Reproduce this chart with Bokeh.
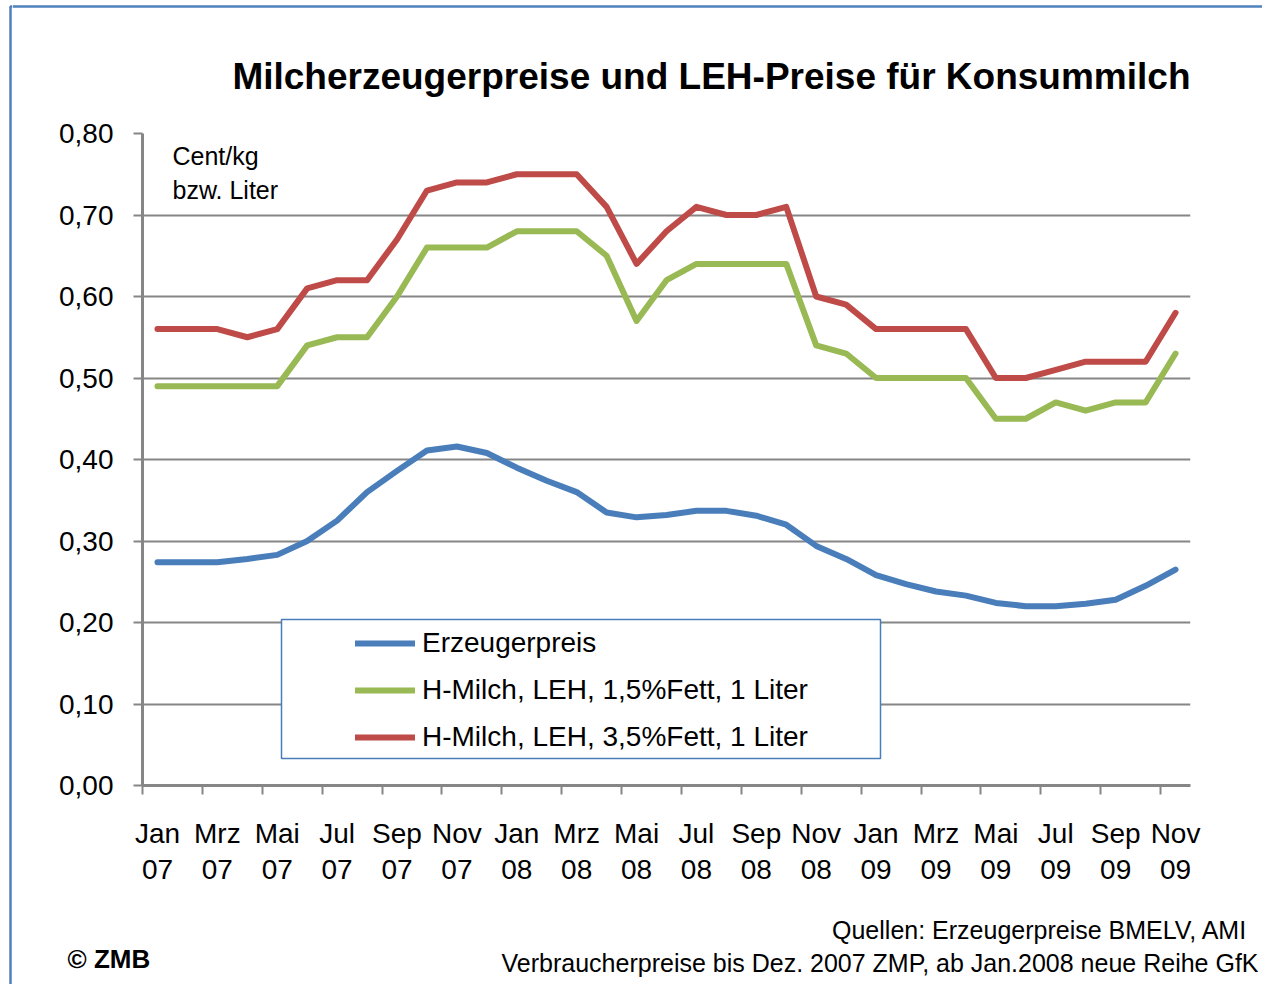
import subprocess
from bokeh.plotting import figure
from bokeh.layouts import row, column
from bokeh.models import (FixedTicker, Legend, LegendItem, Label, BoxAnnotation,
                          ColumnDataSource, Range1d, Span)
from bokeh.embed import file_html
from bokeh.resources import INLINE

# ---------------- data ----------------
months = ["Jan 07", "Feb 07", "Mrz 07", "Apr 07", "Mai 07", "Jun 07", "Jul 07", "Aug 07",
          "Sep 07", "Okt 07", "Nov 07", "Dez 07",
          "Jan 08", "Feb 08", "Mrz 08", "Apr 08", "Mai 08", "Jun 08", "Jul 08", "Aug 08",
          "Sep 08", "Okt 08", "Nov 08", "Dez 08",
          "Jan 09", "Feb 09", "Mrz 09", "Apr 09", "Mai 09", "Jun 09", "Jul 09", "Aug 09",
          "Sep 09", "Okt 09", "Nov 09"]

erzeugerpreis = [0.274, 0.274, 0.274, 0.278, 0.283, 0.300, 0.325, 0.360, 0.386, 0.411,
                 0.416, 0.408, 0.390, 0.374, 0.360, 0.335, 0.329, 0.332, 0.337, 0.337,
                 0.331, 0.320, 0.294, 0.278, 0.258, 0.247, 0.238, 0.233, 0.224, 0.220,
                 0.220, 0.223, 0.228, 0.245, 0.265]

h_milch_15 = [0.49, 0.49, 0.49, 0.49, 0.49, 0.54, 0.55, 0.55, 0.60, 0.66,
              0.66, 0.66, 0.68, 0.68, 0.68, 0.65, 0.57, 0.62, 0.64, 0.64,
              0.64, 0.64, 0.54, 0.53, 0.50, 0.50, 0.50, 0.50, 0.45, 0.45,
              0.47, 0.46, 0.47, 0.47, 0.53]

h_milch_35 = [0.56, 0.56, 0.56, 0.55, 0.56, 0.61, 0.62, 0.62, 0.67, 0.73,
              0.74, 0.74, 0.75, 0.75, 0.75, 0.71, 0.64, 0.68, 0.71, 0.70,
              0.70, 0.71, 0.60, 0.59, 0.56, 0.56, 0.56, 0.56, 0.50, 0.50,
              0.51, 0.52, 0.52, 0.52, 0.58]

series_names = ["Erzeugerpreis",
                "H-Milch, LEH, 1,5%Fett, 1 Liter",
                "H-Milch, LEH, 3,5%Fett, 1 Liter"]

y_ticks = [0.0, 0.1, 0.2, 0.3, 0.4, 0.5, 0.6, 0.7, 0.8]
y_tick_labels = ["0,00", "0,10", "0,20", "0,30", "0,40", "0,50", "0,60", "0,70", "0,80"]

title_text = "Milcherzeugerpreise und LEH-Preise für Konsummilch"
unit_lines = ["Cent/kg", "bzw. Liter"]
source_lines = ["Quellen: Erzeugerpreise BMELV, AMI",
                "Verbraucherpreise bis Dez. 2007 ZMP, ab Jan.2008 neue Reihe GfK"]
copyright_text = "© ZMB"

# ---------------- fonts ----------------
try:
    fc = subprocess.run(["fc-list"], capture_output=True, text=True).stdout
except Exception:
    fc = ""
HAS_NARROW = "Liberation Sans Narrow" in fc
REG = "Liberation Sans, Arial, sans-serif"
if HAS_NARROW:
    TITLE_FONT, TITLE_SIZE = "Liberation Sans Narrow", "46px"
else:
    TITLE_FONT, TITLE_SIZE = REG, "37px"

BORDER = "#4F81BD"
W, H = 1262, 984
STRIP_W = 12
RW = W - STRIP_W
TOP_H, FOOT_H = 118, 84
MAIN_H = H - TOP_H - FOOT_H


def no_align(f):
    try:
        f.frame_align = False
    except Exception:
        pass


def blank(width, height):
    f = figure(width=width, height=height, output_backend="svg", toolbar_location=None,
               x_range=Range1d(0, width), y_range=Range1d(height, 0),
               x_axis_type=None, y_axis_type=None, min_border=0)
    f.outline_line_color = None
    f.grid.visible = False
    f.background_fill_color = "white"
    f.border_fill_color = "white"
    no_align(f)
    return f


# left strip with the outer frame line
strip = blank(STRIP_W, H)
strip.line([10, 10, STRIP_W], [H + 5, 6, 6], line_color=BORDER, line_width=2.5)

# title area
top = blank(RW, TOP_H)
top.add_layout(Span(location=6, dimension="width", line_color=BORDER, line_width=2.5))
top.add_layout(Label(x=1190 - STRIP_W, y=76, text=title_text, text_align="right",
                     text_baseline="alphabetic", text_font=TITLE_FONT,
                     text_font_size=TITLE_SIZE, text_font_style="bold", text_color="black"))

# ---------------- main chart ----------------
x_idx = list(range(len(months)))
src = ColumnDataSource(dict(x=x_idx, erz=erzeugerpreis, h15=h_milch_15, h35=h_milch_35))

p = figure(width=RW, height=MAIN_H, output_backend="svg", toolbar_location=None,
           x_range=Range1d(-0.5, len(months) - 0.5), y_range=Range1d(0, 0.8),
           min_border_left=142 - STRIP_W, min_border_right=RW - (1190 - STRIP_W),
           min_border_top=133 - TOP_H, min_border_bottom=TOP_H + MAIN_H - 785)
p.outline_line_color = None
p.background_fill_color = "white"
p.border_fill_color = "white"
no_align(p)

major = x_idx[::2]
minor = [i - 0.5 for i in x_idx[::2]]
p.xaxis.ticker = FixedTicker(ticks=major, minor_ticks=minor)
p.xaxis.major_label_overrides = {i: months[i].replace(" ", "\n") for i in major}
p.xaxis.major_tick_out = 0
p.xaxis.major_tick_in = 0
p.xaxis.minor_tick_out = 9
p.xaxis.minor_tick_in = 0
p.xaxis.axis_line_color = "#868686"
p.xaxis.axis_line_width = 3
p.xaxis.minor_tick_line_color = "#868686"
p.xaxis.minor_tick_line_width = 2
p.xaxis.major_label_text_font = REG
p.xaxis.major_label_text_font_size = "28px"
p.xaxis.major_label_text_color = "black"
p.xaxis.major_label_text_line_height = 1.18
p.xaxis.major_label_standoff = 23

p.yaxis.ticker = FixedTicker(ticks=y_ticks, minor_ticks=[])
p.yaxis.major_label_overrides = dict(zip(y_ticks, y_tick_labels))
p.yaxis.major_tick_out = 9
p.yaxis.major_tick_in = 0
p.yaxis.minor_tick_out = 0
p.yaxis.axis_line_color = "#868686"
p.yaxis.axis_line_width = 3
p.yaxis.major_tick_line_color = "#868686"
p.yaxis.major_tick_line_width = 2
p.yaxis.major_label_text_font = REG
p.yaxis.major_label_text_font_size = "28px"
p.yaxis.major_label_text_color = "black"
p.yaxis.major_label_standoff = 20

p.xgrid.visible = False
p.ygrid.ticker = FixedTicker(ticks=y_ticks)
p.ygrid.grid_line_color = "#868686"
p.ygrid.grid_line_width = 2

box = BoxAnnotation(left=139, right=738, bottom=27, top=166,
                    left_units="screen", right_units="screen",
                    bottom_units="screen", top_units="screen",
                    fill_color="white", fill_alpha=1.0,
                    line_color="#4A7EBB", line_alpha=1.0, line_width=1.5,
                    level="underlay")
p.add_layout(box)

colors = ["#4A7EBB", "#98B954", "#BE4B48"]
cols = ["erz", "h15", "h35"]
renderers = []
for c, col in zip(colors, cols):
    r = p.line("x", col, source=src, line_color=c, line_width=6,
               line_cap="round", line_join="round")
    renderers.append(r)

legend = Legend(items=[LegendItem(label=n, renderers=[r]) for n, r in zip(series_names, renderers)],
                location=(213, 28), orientation="vertical",
                glyph_width=60, glyph_height=40, label_height=40, label_standoff=7,
                spacing=7, padding=0, margin=0,
                border_line_color=None, background_fill_alpha=0,
                label_text_font=REG, label_text_font_size="28px",
                label_text_color="black")
p.add_layout(legend, "center")

p.add_layout(Label(x=30, y=630, x_units="screen", y_units="screen", text=unit_lines[0],
                   text_align="left", text_baseline="alphabetic", text_font=REG,
                   text_font_size="25px", text_color="black"))
p.add_layout(Label(x=30, y=596, x_units="screen", y_units="screen", text=unit_lines[1],
                   text_align="left", text_baseline="alphabetic", text_font=REG,
                   text_font_size="25px", text_color="black"))

# ---------------- footer ----------------
foot = blank(RW, FOOT_H)
FOOT_Y0 = TOP_H + MAIN_H
foot.add_layout(Label(x=1247 - STRIP_W, y=929 - FOOT_Y0, text=source_lines[0],
                      text_align="right", text_baseline="alphabetic", text_font=REG,
                      text_font_size="25px", text_color="black"))
foot.add_layout(Label(x=1258 - STRIP_W, y=962 - FOOT_Y0, text=source_lines[1],
                      text_align="right", text_baseline="alphabetic", text_font=REG,
                      text_font_size="25px", text_color="black"))
foot.add_layout(Label(x=67 - STRIP_W, y=958 - FOOT_Y0, text=copyright_text,
                      text_align="left", text_baseline="alphabetic", text_font=REG,
                      text_font_size="26px", text_font_style="bold", text_color="black"))

layout = row(strip, column(top, p, foot, spacing=0), spacing=0)

open("out.html", "w").write(file_html(layout, INLINE))
